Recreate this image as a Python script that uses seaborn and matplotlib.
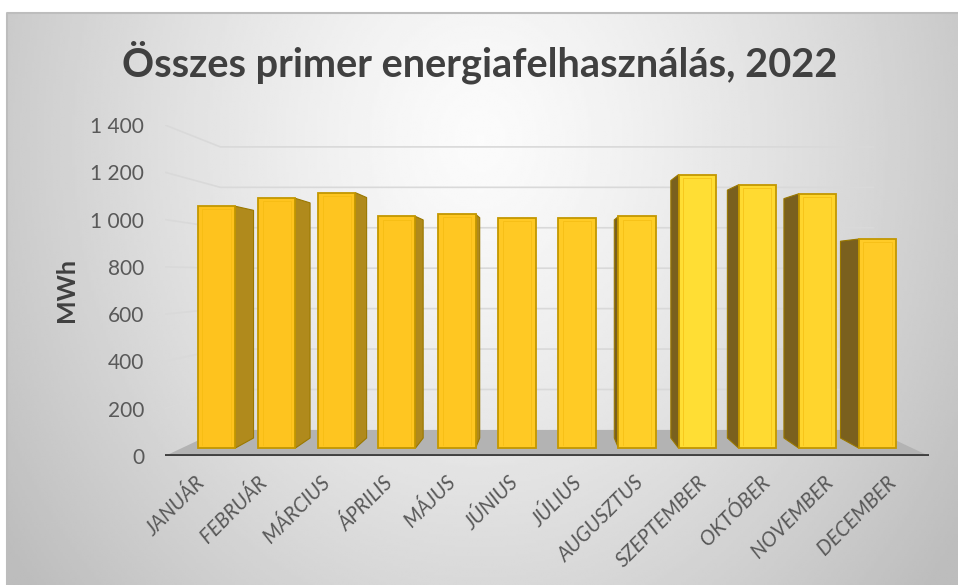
"""Összes primer energiafelhasználás 2022 - havi oszlopdiagram (3D hatású)"""

import numpy as np
import seaborn as sns
import matplotlib.pyplot as plt
from matplotlib.patches import Polygon
from matplotlib.transforms import Affine2D

honapok = ["JANUÁR", "FEBRUÁR", "MÁRCIUS", "ÁPRILIS", "MÁJUS", "JÚNIUS",
           "JÚLIUS", "AUGUSZTUS", "SZEPTEMBER", "OKTÓBER", "NOVEMBER", "DECEMBER"]
energia_mwh = [1070, 1105, 1130, 1025, 1035, 1020, 1020, 1025, 1210, 1165, 1125, 925]

y_ticks = [0, 200, 400, 600, 800, 1000, 1200, 1400]
y_tick_labels = ["0", "200", "400", "600", "800", "1 000", "1 200", "1 400"]

cim = "Összes primer energiafelhasználás, 2022"
y_cim = "MWh"

# oszlopok elolapjanak szine (jobbra vilagosabb a fenyek miatt)
bar_colors = ["#FEC31E", "#FEC41F", "#FEC520", "#FFC621", "#FFC722", "#FFC924",
              "#FFCB25", "#FFCF28", "#FFDE34", "#FFDA31", "#FFD52D", "#FFCB27"]

# perspektiva: enyeszpont es melysegi szorzok
VX, VY = 5.5, 761
S_FRONT = 0.956   # oszlopok eleje
S_BACK = 0.90     # oszlopok hatulja
S_WALL = 0.855    # hatso fal / padlo vege
XL, XR = -0.58, 11.58

sns.set_theme(style="white")
plt.rcParams["font.family"] = ["Lato", "DejaVu Sans"]

W, H = 958, 585
fig = plt.figure(figsize=(W / 100, H / 100), dpi=100)
fig.patch.set_facecolor("white")

# hatter szinatmenet
bg = fig.add_axes([7 / W, 0, 1 - 7 / W, 1 - 13 / H], zorder=-10)
gx, gy = np.meshgrid(np.linspace(7, W, 400), np.linspace(13, H, 250))
r = np.sqrt(((gx - 480) / 500) ** 2 + ((gy - 140) / 600) ** 2)
shade = np.clip(0.985 - 0.2 * r ** 1.3, 0.74, 0.985)
bg.imshow(shade, cmap="gray", vmin=0, vmax=1, aspect="auto",
          extent=[0, 1, 1, 0], interpolation="bilinear")
bg.set_xlim(0, 1)
bg.set_ylim(1, 0)
bg.axis("off")
bg.plot([0, 0, 1], [1, 0, 0], color="#BDBDBD", lw=1.5, clip_on=False)

ax = fig.add_axes([165 / W, (H - 456) / H, 764 / W, 331 / H])
ax.patch.set_alpha(0)

sns.barplot(x=honapok, y=energia_mwh, hue=honapok, palette=bar_colors, legend=False,
            ax=ax, saturation=1, width=0.62, edgecolor="#C39700", linewidth=1.3, zorder=3)
ax.set_xlim(XL, XR)
ax.set_ylim(0, 1400)


def persp(x, y, s):
    return VX + (x - VX) * s, VY + (y - VY) * s


front_tr = Affine2D().translate(-VX, -VY).scale(S_FRONT).translate(VX, VY) + ax.transData

for bar in list(ax.patches):
    x0 = bar.get_x()
    w = bar.get_width()
    x1 = x0 + w
    top = bar.get_height()
    cx = x0 + w / 2
    bar.set_transform(front_tr)
    # finom belso perem az elolapon
    ax.plot([x0 + w * 0.12, x0 + w * 0.12, x1 - w * 0.12, x1 - w * 0.12],
            [12, top - 14, top - 14, 12], color="#F2B90E", lw=0.7, alpha=0.6,
            transform=front_tr, zorder=3.5)
    if abs(cx - VX) < 0.6:
        continue
    edge = x1 if cx < VX else x0
    pts = [persp(edge, top, S_FRONT), persp(edge, 0, S_FRONT),
           persp(edge, 0, S_BACK), persp(edge, top, S_BACK)]
    side_col = "#B08A1C" if cx < VX else "#7A601E"
    ax.add_patch(Polygon(pts, closed=True, facecolor=side_col,
                         edgecolor="#9A7800", lw=0.8, zorder=2))

# racsvonalak a bal es a hatso falon
for v in y_ticks[1:]:
    bx0, by0 = persp(XL, v, S_WALL)
    bx1, by1 = persp(XR, v, S_WALL)
    ax.plot([XL, bx0, bx1], [v, by0, by1], color="#D9D9D9", lw=1.2, zorder=0.5)

# padlo
floor = [(XL, 0), (XR, 0), persp(XR, 0, S_WALL), persp(XL, 0, S_WALL)]
ax.add_patch(Polygon(floor, closed=True, facecolor="#B3B3B3", edgecolor="none", zorder=0.8))
ax.plot([XL, XR], [0, 0], color="#404040", lw=2.8, solid_capstyle="round", zorder=1)

sns.despine(ax=ax, left=True, bottom=True)
ax.set_yticks(y_ticks, labels=y_tick_labels)
ax.tick_params(axis="y", length=0, pad=15, labelsize=15, labelcolor="#595959")
ax.tick_params(axis="x", length=0, pad=17, labelsize=14.8, labelcolor="#595959")
for lab in ax.get_xticklabels():
    lab.set_rotation(45)
    lab.set_ha("right")
    lab.set_va("center")
    lab.set_rotation_mode("anchor")
    lab.set_fontstyle("italic")

ax.set_xlabel("")
ax.set_ylabel(y_cim, fontsize=18, fontweight="bold", color="#404040", labelpad=9)

t = fig.text(480 / W, 1 - 62 / H, cim, ha="center", va="center",
             fontsize=26, fontweight="bold", color="#404040")
fig.canvas.draw()
tw = t.get_window_extent().width
t.set_fontsize(26 * 715 / tw)

fig.savefig("out.png", dpi=100)
